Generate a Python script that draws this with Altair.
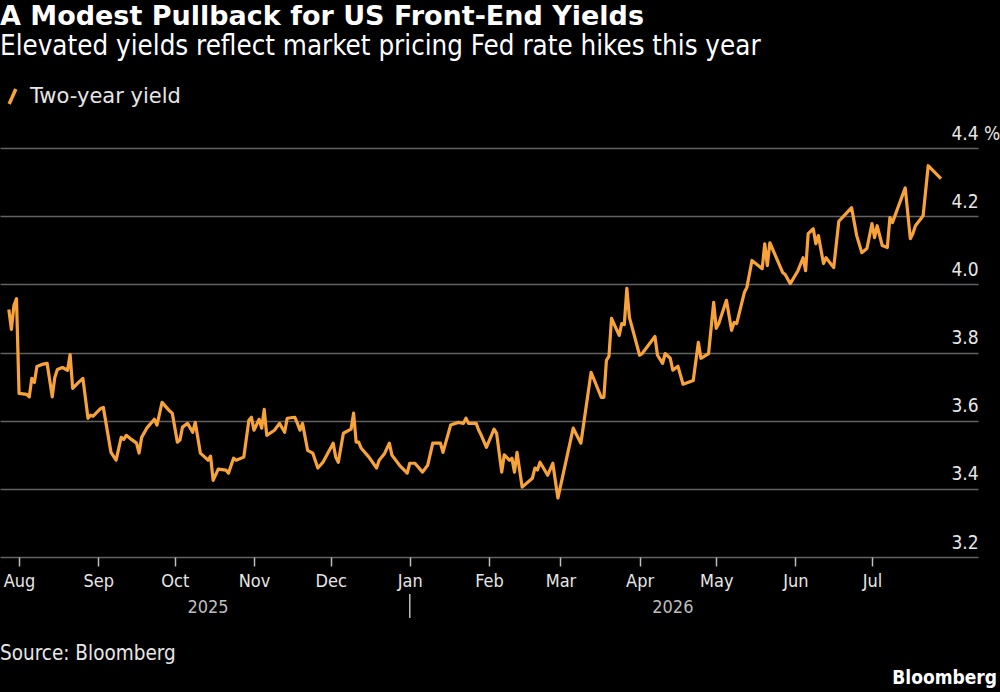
import altair as alt
import pandas as pd

# ---------------- data ----------------
dates = [
    "2025-07-28", "2025-07-29", "2025-07-30", "2025-07-31", "2025-08-01", "2025-08-04", "2025-08-05", "2025-08-06",
    "2025-08-07", "2025-08-08", "2025-08-10", "2025-08-12", "2025-08-14", "2025-08-15", "2025-08-16", "2025-08-18",
    "2025-08-20", "2025-08-21", "2025-08-22", "2025-08-24", "2025-08-26", "2025-08-28", "2025-08-29", "2025-08-30",
    "2025-09-02", "2025-09-03", "2025-09-06", "2025-09-08", "2025-09-10", "2025-09-11", "2025-09-12", "2025-09-14",
    "2025-09-16", "2025-09-17", "2025-09-18", "2025-09-20", "2025-09-23", "2025-09-24", "2025-09-26", "2025-09-27",
    "2025-09-29", "2025-09-30",
    "2025-10-02", "2025-10-03", "2025-10-04", "2025-10-06", "2025-10-08", "2025-10-09", "2025-10-11", "2025-10-14",
    "2025-10-15", "2025-10-16", "2025-10-18", "2025-10-21", "2025-10-22", "2025-10-24", "2025-10-25", "2025-10-28",
    "2025-10-30", "2025-10-31",
    "2025-11-01", "2025-11-03", "2025-11-04", "2025-11-05", "2025-11-06", "2025-11-09", "2025-11-11", "2025-11-13",
    "2025-11-14", "2025-11-17", "2025-11-18", "2025-11-19", "2025-11-20", "2025-11-22", "2025-11-24", "2025-11-26",
    "2025-11-28",
    "2025-12-02", "2025-12-03", "2025-12-04", "2025-12-06", "2025-12-09", "2025-12-10", "2025-12-11", "2025-12-12",
    "2025-12-13", "2025-12-16", "2025-12-19", "2025-12-20", "2025-12-22", "2025-12-24", "2025-12-25", "2025-12-28",
    "2025-12-31",
    "2026-01-01", "2026-01-03", "2026-01-06", "2026-01-08", "2026-01-10", "2026-01-13", "2026-01-14", "2026-01-17",
    "2026-01-20", "2026-01-22", "2026-01-23", "2026-01-24", "2026-01-27", "2026-01-28", "2026-01-29", "2026-01-31",
    "2026-02-03", "2026-02-04", "2026-02-06", "2026-02-07", "2026-02-09", "2026-02-10", "2026-02-11", "2026-02-12",
    "2026-02-14", "2026-02-18", "2026-02-19", "2026-02-20", "2026-02-21", "2026-02-24", "2026-02-26", "2026-02-28",
    "2026-03-06", "2026-03-09", "2026-03-13", "2026-03-17", "2026-03-18", "2026-03-19", "2026-03-20", "2026-03-21",
    "2026-03-24", "2026-03-25", "2026-03-26", "2026-03-27", "2026-03-28",
    "2026-04-01", "2026-04-02", "2026-04-07", "2026-04-08", "2026-04-10", "2026-04-11", "2026-04-13", "2026-04-14",
    "2026-04-16", "2026-04-18", "2026-04-22", "2026-04-24", "2026-04-25", "2026-04-28", "2026-04-30",
    "2026-05-01", "2026-05-02", "2026-05-05", "2026-05-07", "2026-05-08", "2026-05-09", "2026-05-12", "2026-05-13",
    "2026-05-15", "2026-05-19", "2026-05-20", "2026-05-21", "2026-05-22", "2026-05-27", "2026-05-28", "2026-05-30",
    "2026-06-02", "2026-06-04", "2026-06-05", "2026-06-06", "2026-06-08", "2026-06-09", "2026-06-10", "2026-06-12",
    "2026-06-13", "2026-06-16", "2026-06-18", "2026-06-20", "2026-06-23", "2026-06-25", "2026-06-27", "2026-06-29",
    "2026-07-01", "2026-07-02", "2026-07-03", "2026-07-05", "2026-07-07", "2026-07-08", "2026-07-09", "2026-07-11",
    "2026-07-14", "2026-07-16", "2026-07-17", "2026-07-18", "2026-07-21", "2026-07-23", "2026-07-25", "2026-07-28",
]

two_year_yield = [
    3.926, 3.868, 3.938, 3.958, 3.680, 3.677, 3.670, 3.724,
    3.712, 3.759, 3.765, 3.768, 3.670, 3.727, 3.750, 3.756,
    3.748, 3.794, 3.695, 3.710, 3.724, 3.607, 3.616, 3.613,
    3.636, 3.639, 3.507, 3.484, 3.551, 3.545, 3.557, 3.545,
    3.534, 3.505, 3.551, 3.578, 3.604, 3.587, 3.654, 3.645,
    3.628, 3.622,
    3.537, 3.543, 3.581, 3.592, 3.566, 3.595, 3.505, 3.484,
    3.496, 3.425, 3.458, 3.455, 3.446, 3.490, 3.484, 3.493,
    3.601, 3.610,
    3.572, 3.604, 3.578, 3.633, 3.557, 3.572, 3.592, 3.566,
    3.607, 3.610, 3.592, 3.572, 3.592, 3.513, 3.505, 3.461,
    3.478,
    3.534, 3.493, 3.478, 3.563, 3.575, 3.622, 3.537, 3.537,
    3.519, 3.493, 3.461, 3.484, 3.502, 3.534, 3.499, 3.469,
    3.446,
    3.475, 3.475, 3.449, 3.469, 3.534, 3.534, 3.507, 3.587,
    3.595, 3.592, 3.607, 3.592, 3.592, 3.572, 3.557, 3.522,
    3.575, 3.563, 3.449, 3.500, 3.484, 3.490, 3.449, 3.507,
    3.405, 3.431, 3.461, 3.455, 3.478, 3.440, 3.475, 3.373,
    3.578, 3.534, 3.742, 3.668, 3.668, 3.777, 3.789, 3.900,
    3.850, 3.885, 3.882, 3.988, 3.903,
    3.792, 3.797, 3.847, 3.792, 3.768, 3.797, 3.783, 3.748,
    3.760, 3.707, 3.718, 3.830, 3.783, 3.797, 3.947,
    3.871, 3.885, 3.953, 3.865, 3.888, 3.885, 3.976, 3.991,
    4.070, 4.046, 4.119, 4.055, 4.122, 4.035, 4.029, 4.002,
    4.040, 4.078, 4.040, 4.149, 4.163, 4.119, 4.143, 4.061,
    4.078, 4.049, 4.185, 4.201, 4.225, 4.143, 4.093, 4.105,
    4.178, 4.137, 4.172, 4.114, 4.108, 4.196, 4.181, 4.222,
    4.283, 4.134, 4.149, 4.172, 4.201, 4.348, 4.333, 4.310,
]
assert len(dates) == len(two_year_yield)

series_name = "Two-year yield"
month_ticks = [
    "2025-08-01", "2025-09-01", "2025-10-01", "2025-11-01", "2025-12-01", "2026-01-01",
    "2026-02-01", "2026-03-01", "2026-04-01", "2026-05-01", "2026-06-01", "2026-07-01",
]
year_labels = ["2025", "2026"]
year_label_dates = ["2025-10-14", "2026-04-14"]
year_break_dates = ["2026-01-01"]
y_ticks = [3.2, 3.4, 3.6, 3.8, 4.0, 4.2, 4.4]

title_text = "A Modest Pullback for US Front-End Yields"
subtitle_text = "Elevated yields reflect market pricing Fed rate hikes this year"
source_text = "Source: Bloomberg"
logo_text = "Bloomberg"

# ---------------- styling ----------------
W, H = 978, 409
PAD_TOP, PAD_BOTTOM, PAD_RIGHT = 148, 135, 22
FONT_C = "DejaVu Sans Condensed, Liberation Sans Narrow, Liberation Sans, sans-serif"
FONT_R = "DejaVu Sans, Liberation Sans, sans-serif"
ORANGE = "#f8a23a"
TEXT = "#e6e6e6"


def dt(s, hours=0):
    y, m, d = (int(p) for p in s.split("-"))
    return alt.DateTime(year=y, month=m, date=d, hours=hours, utc=True)


x_scale = alt.Scale(type="utc", domain=[dt("2025-07-24", 13), dt("2026-08-11", 12)])

df = pd.DataFrame({"date": dates, "yield": two_year_yield, "series": series_name})

line = alt.Chart(df).mark_line(strokeWidth=3.2, strokeJoin="round").encode(
    x=alt.X(
        "date:T",
        scale=x_scale,
        axis=alt.Axis(
            values=[dt(m) for m in month_ticks],
            labelExpr="utcFormat(datum.value, '%b')",
            grid=False,
            domain=False,
            ticks=True,
            tickSize=9,
            tickWidth=1.5,
            tickColor="#bdbdbd",
            labelColor=TEXT,
            labelFont=FONT_C,
            labelFontSize=18,
            labelPadding=6,
            labelFlush=False,
            labelOverlap=False,
            title=None,
        ),
    ),
    y=alt.Y(
        "yield:Q",
        scale=alt.Scale(domain=[3.2, 4.4], nice=False, zero=False),
        axis=alt.Axis(
            orient="right",
            values=y_ticks,
            grid=True,
            gridColor="#626262",
            gridWidth=1.5,
            domain=False,
            ticks=False,
            tickSize=0,
            labelAlign="left",
            labelBaseline="alphabetic",
            labelPadding=-27,
            labelOffset=-9,
            labelExpr="datum.value == 4.4 ? '4.4 %' : format(datum.value, '.1f')",
            labelColor=TEXT,
            labelFont=FONT_C,
            labelFontSize=19,
            title=None,
        ),
    ),
    color=alt.Color(
        "series:N",
        scale=alt.Scale(range=[ORANGE]),
        legend=alt.Legend(
            orient="none",
            legendX=2,
            legendY=-62,
            title=None,
            padding=0,
            symbolType="M-0.45,1L0.45,-1",
            symbolSize=220,
            symbolStrokeWidth=3.5,
            symbolFillColor="transparent",
            labelFont=FONT_R,
            labelFontSize=21,
            labelColor=TEXT,
            labelOffset=7,
        ),
    ),
)

years_df = pd.DataFrame({"date": year_label_dates, "label": year_labels})
years = alt.Chart(years_df).mark_text(
    font=FONT_C, fontSize=18, color="#bdbdbd", baseline="middle", align="center"
).encode(x="date:T", y=alt.value(460), text="label:N")

break_df = pd.DataFrame({"date": year_break_dates})
year_break = alt.Chart(break_df).mark_rule(color="#bdbdbd", strokeWidth=1.5).encode(
    x="date:T", y=alt.value(446), y2=alt.value(470)
)

source = alt.Chart(pd.DataFrame({"t": [source_text]})).mark_text(
    font=FONT_C, fontSize=20.5, color=TEXT, align="left", baseline="middle"
).encode(x=alt.value(0), y=alt.value(654 - PAD_TOP), text="t:N")

logo = alt.Chart(pd.DataFrame({"t": [logo_text]})).mark_text(
    font=FONT_C, fontSize=19, fontWeight="bold", color="#ffffff", align="right", baseline="middle"
).encode(x=alt.value(997), y=alt.value(678 - PAD_TOP), text="t:N")

chart = alt.layer(line, years, year_break, source, logo).properties(
    width=W,
    height=H,
    padding={"left": 0, "top": PAD_TOP, "right": PAD_RIGHT, "bottom": PAD_BOTTOM},
    autosize=alt.AutoSizeParams(type="none"),
    background="#000000",
    title=alt.TitleParams(
        text=title_text,
        subtitle=subtitle_text,
        anchor="start",
        frame="group",
        orient="top",
        offset=25,
        font=FONT_R,
        fontSize=27,
        fontWeight="bold",
        color="#ffffff",
        subtitleFont=FONT_C,
        subtitleFontSize=27.5,
        subtitleColor="#ffffff",
        subtitlePadding=2,
    ),
).configure_view(stroke=None)

chart.save("out.html", embed_options={"renderer": "svg", "actions": False})
